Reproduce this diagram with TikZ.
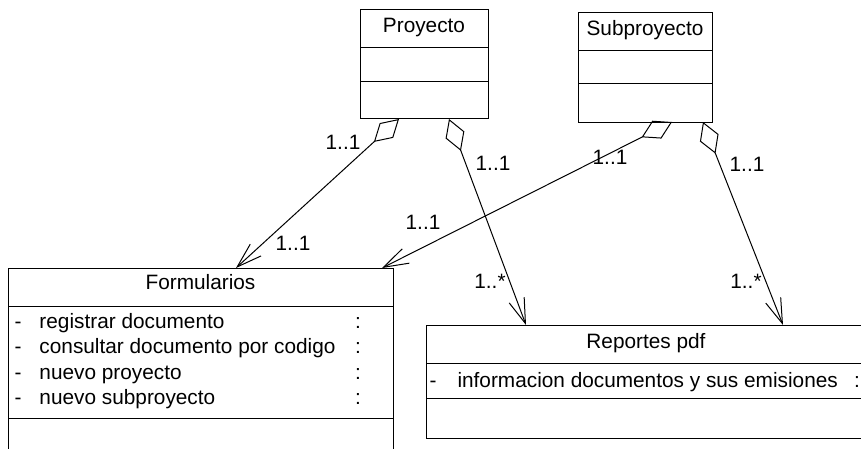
\documentclass[tikz,border=0pt]{standalone}
\usepackage{fontspec}
\setmainfont{Liberation Sans}
\usetikzlibrary{arrows.meta}
\begin{document}
\begin{tikzpicture}[x=.5pt,y=-.5pt,line width=.5pt,
		every node/.style={inner sep=0,font=\fontsize{10.4}{12.5}\selectfont},
		clase/.style={draw,fill=none},
		assoc/.style={{Diamond[open,length=17pt,width=10pt]}-{Straight Barb[length=12.5pt,width=8pt]}}]
	\useasboundingbox (0,0) rectangle (861,449);
	\clip (0,0) rectangle (861,449);
	% clases
	\node[clase,minimum width=64pt,minimum height=54.5pt] (proy) at (424,64.5) {};
	\draw (360,48) -- (488,48);
	\draw (360,82) -- (488,82);
	\node[anchor=base] (proyT) at (424,33) {Proyecto};
	\node[clase,minimum width=67pt,minimum height=54.5pt] (subp) at (645,67.5) {};
	\draw (578,51) -- (712,51);
	\draw (578,84) -- (712,84);
	\node[anchor=base] (subpT) at (645,36) {Subproyecto};
	\node[clase,minimum width=192.5pt,minimum height=96pt] (form) at (200.5,364) {};
	\draw (8,306) -- (393,306);
	\draw (8,418) -- (393,418);
	\node[anchor=base] (formT) at (200.5,289) {Formularios};
	\foreach \i/\t in {0/registrar documento,1/consultar documento por codigo,
			2/nuevo proyecto,3/nuevo subproyecto}{
		\node[anchor=base] (formG\i) at (18,328+25.5*\i) {-};
		\node[anchor=base west] (formA\i) at (39,328+25.5*\i) {\t};
		\node[anchor=base] (formC\i) at (358,328+25.5*\i) {:};
	}
	\node[clase,minimum width=222pt,minimum height=56.5pt] (repo) at (648,381.5) {};
	\draw (426,363) -- (870,363);
	\draw (426,398) -- (870,398);
	\node[anchor=base] (repoT) at (646,348) {Reportes pdf};
	\node[anchor=base] (repoG) at (433,387) {-};
	\node[anchor=base west] (repoA) at (457,387) {informacion documentos y sus emisiones};
	\node[anchor=base] (repoC) at (857,387) {:};
	% extremos
	\coordinate (proyA) at (399,119);
	\coordinate (proyB) at (449,119);
	\coordinate (subpA) at (672,122);
	\coordinate (subpB) at (703,122);
	\coordinate (formA) at (236,268);
	\coordinate (formB) at (382,268);
	\coordinate (repoA') at (526,325);
	\coordinate (repoB) at (783,325);
	% asociaciones
	\draw[assoc] (proyA) -- (formA);
	\draw[assoc] (proyB) -- (repoA');
	\draw[assoc] (subpA) -- (formB);
	\draw[assoc] (subpB) -- (repoB);
	\node[anchor=center] (m1) at (343,142) {1..1};
	\node[anchor=center] (m2) at (493,163) {1..1};
	\node[anchor=center] (m3) at (293,243) {1..1};
	\node[anchor=center] (m4) at (423,222) {1..1};
	\node[anchor=center] (m5) at (490,281) {1..*};
	\node[anchor=center] (m6) at (610,157) {1..1};
	\node[anchor=center] (m7) at (747,164) {1..1};
	\node[anchor=center] (m8) at (746,281) {1..*};
\end{tikzpicture}
\end{document}
